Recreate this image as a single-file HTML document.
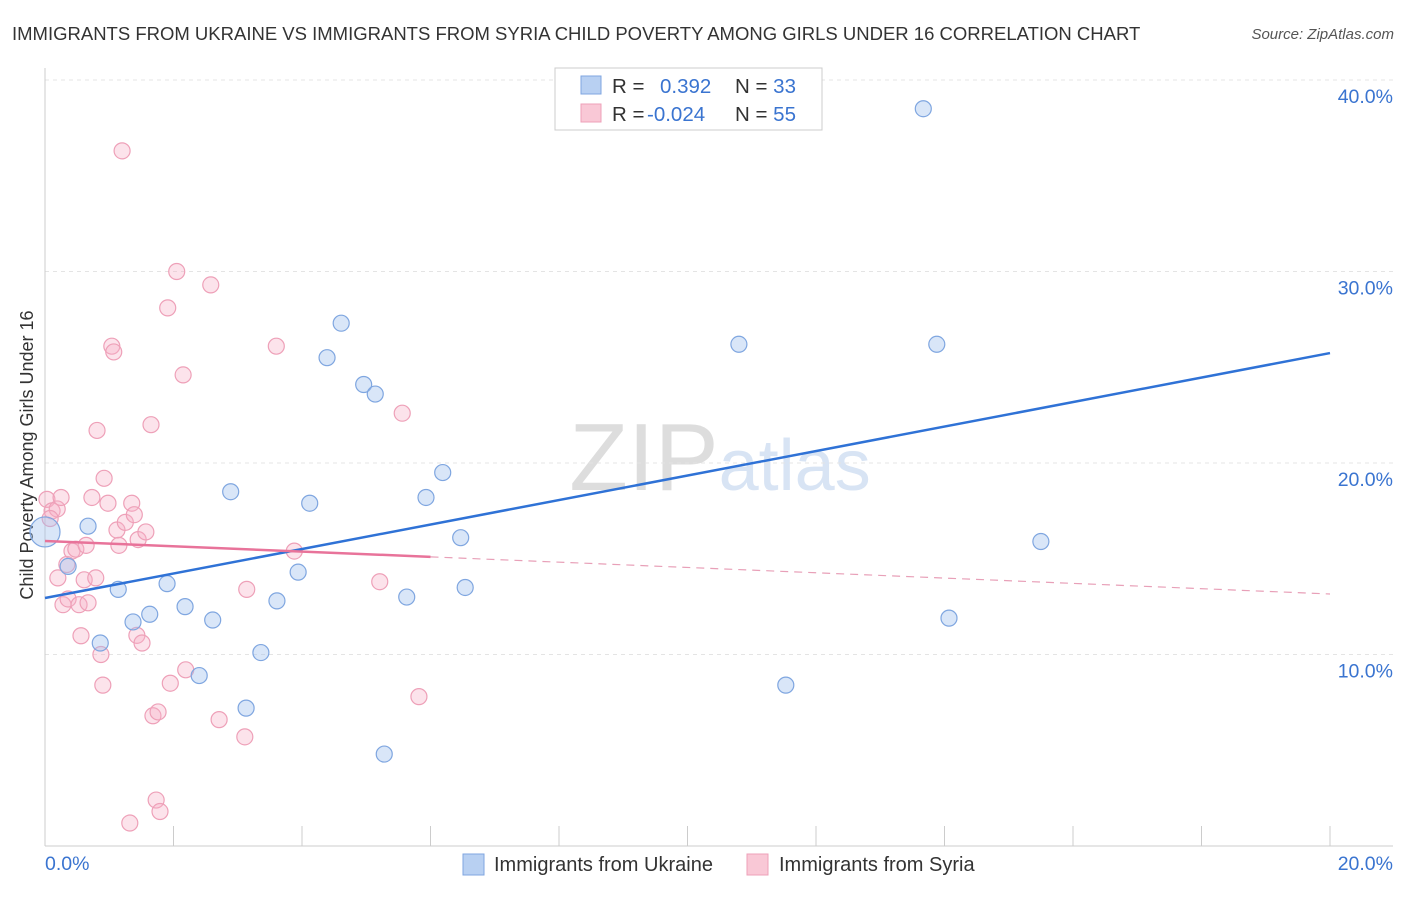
<!DOCTYPE html>
<html><head><meta charset="utf-8"><style>
body{margin:0;background:#fff;font-family:"Liberation Sans",sans-serif;}
svg text{font-family:"Liberation Sans",sans-serif;}
</style></head><body>
<svg id="c" width="1406" height="892">
<text x="12" y="40" font-size="18.5" fill="#333">IMMIGRANTS FROM UKRAINE VS IMMIGRANTS FROM SYRIA CHILD POVERTY AMONG GIRLS UNDER 16 CORRELATION CHART</text>
<text x="1394" y="39" font-size="15" fill="#555" text-anchor="end" font-style="italic">Source: ZipAtlas.com</text>
<text x="720" y="490" font-size="96" fill="#ddd" text-anchor="middle" font-family="Liberation Serif">ZIP<tspan fill="#d8e4f4" font-family="Liberation Sans" font-size="72">atlas</tspan></text>
<text transform="translate(33,455) rotate(-90)" font-size="18" fill="#333" text-anchor="middle">Child Poverty Among Girls Under 16</text>
<g id="grid"></g><g id="marks"></g>
<g>
<rect x="555" y="68" width="267" height="62" fill="#fff" stroke="#ccc"/>
<rect x="581" y="76" width="20" height="18" fill="#b8d0f2" stroke="#7fa6e0"/>
<rect x="581" y="104" width="20" height="18" fill="#f9c8d6" stroke="#eea0b8"/>
<text x="612" y="93" font-size="20.5" fill="#333">R = <tspan fill="#3a74d0" x="660">0.392</tspan><tspan x="735" fill="#333">N = </tspan><tspan fill="#3a74d0">33</tspan></text>
<text x="612" y="121" font-size="20.5" fill="#333">R = <tspan fill="#3a74d0" x="647">-0.024</tspan><tspan x="735" fill="#333">N = </tspan><tspan fill="#3a74d0">55</tspan></text>
</g>
<g>
<rect x="463" y="854" width="21" height="21" fill="#b8d0f2" stroke="#7fa6e0"/>
<text x="494" y="871" font-size="20" fill="#333">Immigrants from Ukraine</text>
<rect x="747" y="854" width="21" height="21" fill="#f9c8d6" stroke="#eea0b8"/>
<text x="779" y="871" font-size="20" fill="#333">Immigrants from Syria</text>
</g>
</svg>
<script>
const yTicks=[10,20,30,40];
const xTickLabels=["0.0%","20.0%"];
const ukrX=[0,0.67,0.36,1.14,0.86,1.37,1.63,1.9,2.18,2.61,2.4,2.89,3.13,3.36,3.61,3.94,4.12,4.39,4.61,4.96,5.14,5.28,5.63,5.93,6.19,6.47,6.54,10.8,11.53,13.67,13.88,14.07,15.5];
const ukrY=[16.4,16.7,14.6,13.4,10.6,11.7,12.1,13.7,12.5,11.8,8.9,18.5,7.2,10.1,12.8,14.3,17.9,25.5,27.3,24.1,23.6,4.8,13.0,18.2,19.5,16.1,13.5,26.2,8.4,38.5,26.2,11.9,15.9];
const syrX=[0.03,0.11,0.19,0.25,0.2,0.28,0.36,0.34,0.42,0.48,0.56,0.53,0.61,0.67,0.64,0.73,0.79,0.81,0.87,0.92,0.9,0.98,1.04,1.07,1.12,1.15,1.2,1.25,1.32,1.35,1.39,1.43,1.45,1.51,1.57,1.65,1.68,1.73,1.76,1.79,1.91,1.95,2.05,2.15,2.19,2.58,2.71,3.11,3.14,3.6,3.88,5.21,5.56,5.82,0.08];
const syrY=[18.1,17.5,17.6,18.2,14.0,12.6,12.9,14.7,15.4,15.5,10.98,12.6,13.9,12.7,15.7,18.2,14.0,21.7,10.0,19.2,8.4,17.9,26.1,25.8,16.5,15.7,36.3,16.9,1.2,17.9,17.3,11.0,16.0,10.6,16.4,22.0,6.8,2.4,7.0,1.8,28.1,8.5,30.0,24.6,9.2,29.3,6.6,5.7,13.4,26.1,15.4,13.8,22.6,7.8,17.1];
const ukrTrend=[12.95,25.74]; // y at x=0 and x=20
const syrTrend=[15.93,13.16];
const sx=v=>45+v*64.25, sy=v=>846-v*19.15;
const NS="http://www.w3.org/2000/svg";
function mk(t,a,p){const e=document.createElementNS(NS,t);for(const k in a)e.setAttribute(k,a[k]);p.appendChild(e);return e;}
const g=document.getElementById('grid'),m=document.getElementById('marks');
yTicks.forEach(t=>{const l=mk('line',{x1:45,x2:1393,y1:sy(t),y2:sy(t),stroke:'#e4e4e4','stroke-dasharray':'4,4'},g);


const tx=mk('text',{x:1393,y:sy(t)+23,'font-size':19.5,fill:'#3a74d0','text-anchor':'end'},g);tx.textContent=t.toFixed(1)+'%';

});
mk('line',{x1:45,x2:45,y1:68,y2:846,stroke:'#ccc'},g);
mk('line',{x1:45,x2:1393,y1:846,y2:846,stroke:'#ccc'},g);
for(let i=0;i<=10;i++){mk('line',{x1:sx(i*2),x2:sx(i*2),y1:826,y2:846,stroke:'#ccc'},g);}
const xl=mk('text',{x:45,y:870,'font-size':19.5,fill:'#3a74d0'},g);xl.textContent=xTickLabels[0];


const xr=mk('text',{x:1393,y:870,'font-size':19.5,fill:'#3a74d0','text-anchor':'end'},g);xr.textContent=xTickLabels[1];


syrX.forEach((x,i)=>{const c=mk('circle',{cx:sx(x),cy:sy(syrY[i]),r:8,fill:'rgba(246,176,198,0.35)',stroke:'#eea0b8','stroke-width':1.2},m);

});
ukrX.forEach((x,i)=>{const c=mk('circle',{cx:sx(x),cy:sy(ukrY[i]),r:i==0?15:8,fill:'rgba(160,192,238,0.4)',stroke:'#7fa6e0','stroke-width':1.2},m);

});
const lin=(tr,x)=>tr[0]+(tr[1]-tr[0])*x/20;
let l1=mk('line',{x1:sx(0),y1:sy(lin(ukrTrend,0)),x2:sx(20),y2:sy(lin(ukrTrend,20)),stroke:'#2f72d6','stroke-width':2.5},m);


let l2=mk('line',{x1:sx(0),y1:sy(lin(syrTrend,0)),x2:sx(6),y2:sy(lin(syrTrend,6)),stroke:'#e8739a','stroke-width':2.5},m);


let l3=mk('line',{x1:sx(6),y1:sy(lin(syrTrend,6)),x2:sx(20),y2:sy(lin(syrTrend,20)),stroke:'#e8a0b8','stroke-width':1.2,'stroke-dasharray':'8,6'},m);


</script>
</body></html>
